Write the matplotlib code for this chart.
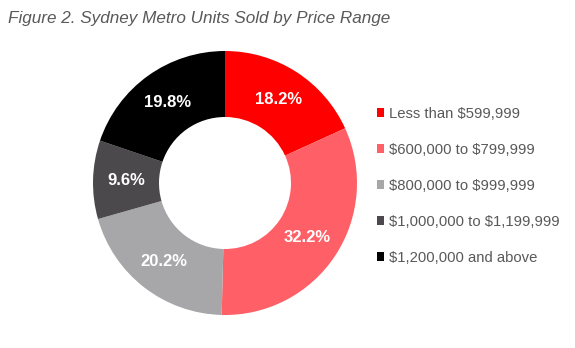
import matplotlib.pyplot as plt

plt.rcParams['font.family'] = ['Liberation Sans', 'DejaVu Sans']
plt.rcParams['text.parse_math'] = False

# Data
categories = ['Less than $599,999', '$600,000 to $799,999', '$800,000 to $999,999',
              '$1,000,000 to $1,199,999', '$1,200,000 and above']
shares = [18.2, 32.2, 20.2, 9.6, 19.8]
colors = ['#FF0000', '#FF5F66', '#A7A7AA', '#4B494C', '#000000']

fig = plt.figure(figsize=(5.75, 3.48), dpi=100)

# Donut axes: centre ~ (225, 183) px, radius ~132 px
cx, cy, r = 225, 183, 132
ax = fig.add_axes([(cx - r) / 575, (348 - cy - r) / 348, 2 * r / 575, 2 * r / 348])

wedges, texts, autotexts = ax.pie(
    shares,
    colors=colors,
    startangle=90,
    counterclock=False,
    radius=1,
    wedgeprops=dict(width=0.5, edgecolor='none'),
    autopct='%.1f%%',
    pctdistance=0.75,
    textprops=dict(color='white', fontsize=12, fontweight='bold'))
ax.set_xlim(-1, 1)
ax.set_ylim(-1, 1)
ax.set_aspect('equal')
ax.axis('off')

fig.text(8 / 575, 1 - 19 / 348, 'Figure 2. Sydney Metro Units Sold by Price Range',
         fontsize=12.3, style='italic', color='#595959', va='center', ha='left')

leg = fig.legend(
    wedges, categories,
    loc='upper left',
    bbox_to_anchor=(371 / 575, 1 - 101 / 348),
    frameon=False,
    fontsize=10.7,
    handlelength=0.5,
    handleheight=0.5,
    handletextpad=0.3,
    labelspacing=1.48,
    borderaxespad=0)
for t in leg.get_texts():
    t.set_color('#595959')

fig.savefig('out.png', dpi=100)
